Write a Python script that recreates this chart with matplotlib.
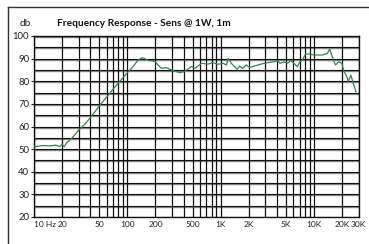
import matplotlib
matplotlib.use("Agg")
import matplotlib.pyplot as plt
from matplotlib.lines import Line2D
from matplotlib.transforms import ScaledTranslation
import numpy as np

# ---- data ----
freq_hz = [10, 12.5, 15, 17, 19, 20, 21, 22.4, 26, 30, 36, 42, 51, 60, 72, 85, 101, 115, 130,
           142, 150, 167, 197, 215, 232, 262, 310, 366, 414, 485, 529, 622, 731, 827, 937,
           1061, 1151, 1200, 1300, 1410, 1505, 1590, 1725, 1870, 2030, 2290, 2700, 3170,
           3730, 4050, 4330, 4770, 5170, 5620, 6100, 6600, 7050, 7470, 8100, 9170, 9950,
           12200, 13800, 14700, 15600, 16900, 18300, 19800, 20600, 22400, 23200, 24800,
           26200, 28000]
spl_db = [51.0, 51.6, 51.4, 51.8, 51.1, 52.2, 51.0, 52.8, 55.3, 58.3, 61.5, 65.0, 69.5, 73.0,
          77.0, 80.5, 84.0, 86.5, 89.3, 90.3, 90.2, 89.2, 88.8, 87.0, 85.7, 86.0, 84.6, 83.8,
          84.4, 86.5, 85.7, 87.9, 87.6, 88.2, 87.5, 87.9, 87.2, 90.1, 87.9, 86.4, 85.3, 86.7,
          85.7, 87.2, 86.1, 86.7, 87.6, 88.2, 88.6, 89.1, 87.9, 88.6, 87.9, 89.1, 87.9, 86.4,
          88.6, 89.4, 92.0, 92.0, 91.6, 91.6, 92.3, 94.2, 90.9, 87.2, 88.6, 87.9, 85.0, 82.0,
          79.8, 82.7, 79.1, 75.4]

xtick_vals = [10, 20, 50, 100, 200, 500, 1000, 2000, 5000, 10000, 20000, 30000]
xtick_labels = ["10 Hz", "20", "50", "100", "200", "500", "1K", "2K", "5K", "10K", "20K", "30K"]
ytick_vals = [20, 30, 40, 50, 60, 70, 80, 90, 100]
ygrid_vals = list(range(20, 101, 5))
xgrid_vals = [m * d for d in (10, 100, 1000) for m in range(1, 10)] + [10000, 20000, 30000]

title = "Frequency Response - Sens @ 1W, 1m"
unit = "db"

W, H = 369, 244
fig = plt.figure(figsize=(W / 100, H / 100), dpi=100)
fig.patch.set_facecolor("white")

# outer frame lines (top and left)
fig.add_artist(Line2D([8 / W, 1], [1 - 7 / H, 1 - 7 / H], transform=fig.transFigure,
                      color="#333333", lw=1.0))
fig.add_artist(Line2D([8 / W, 8 / W], [0, 1 - 7 / H], transform=fig.transFigure,
                      color="#333333", lw=1.0))

left, right, top, bottom = 34 / W, 358.7 / W, 1 - 36 / H, 1 - 217 / H
ax = fig.add_axes([left, bottom, right - left, top - bottom])
ax.set_xscale("log")
ax.set_xlim(10, 30000)
ax.set_ylim(20, 100)

# grid
for y in ygrid_vals:
    ax.axhline(y - 0.45, color="#8a8a8a", lw=1.0, zorder=1)
    ax.axhline(y, color="#111111", lw=0.8, zorder=1.2)
for x in xgrid_vals:
    ax.axvline(x, color="#111111", lw=0.9, zorder=1.1)

ax.plot(freq_hz, spl_db, color="#35824f", lw=0.9, zorder=3)

ax.set_xticks(xtick_vals)
ax.set_xticklabels(xtick_labels)
ax.xaxis.set_minor_locator(matplotlib.ticker.NullLocator())
ax.set_yticks(ytick_vals)
ax.tick_params(axis="x", length=0, pad=3, labelsize=6, colors="#222222")
ax.tick_params(axis="y", length=2, width=0.8, pad=1.5, labelsize=6.8, colors="#222222")
for lbl in ax.get_xticklabels() + ax.get_yticklabels():
    lbl.set_family(["Lato", "DejaVu Sans"])
first = ax.get_xticklabels()[0]
first.set_horizontalalignment("left")
first.set_transform(first.get_transform() + ScaledTranslation(0.3 / 100, 0, fig.dpi_scale_trans))

for s in ax.spines.values():
    s.set_color("#111111")
    s.set_linewidth(1.0)

fig.text(20 / W, 1 - 24 / H, unit, fontsize=7.2, va="center", ha="left",
         family=["Lato", "DejaVu Sans"], color="#222222")
fig.text(57 / W, 1 - 24 / H, title, fontsize=7.3, va="center", ha="left", fontweight="bold",
         family=["Lato", "DejaVu Sans"], color="#111111")

fig.savefig("out.png", dpi=100, facecolor="white")
